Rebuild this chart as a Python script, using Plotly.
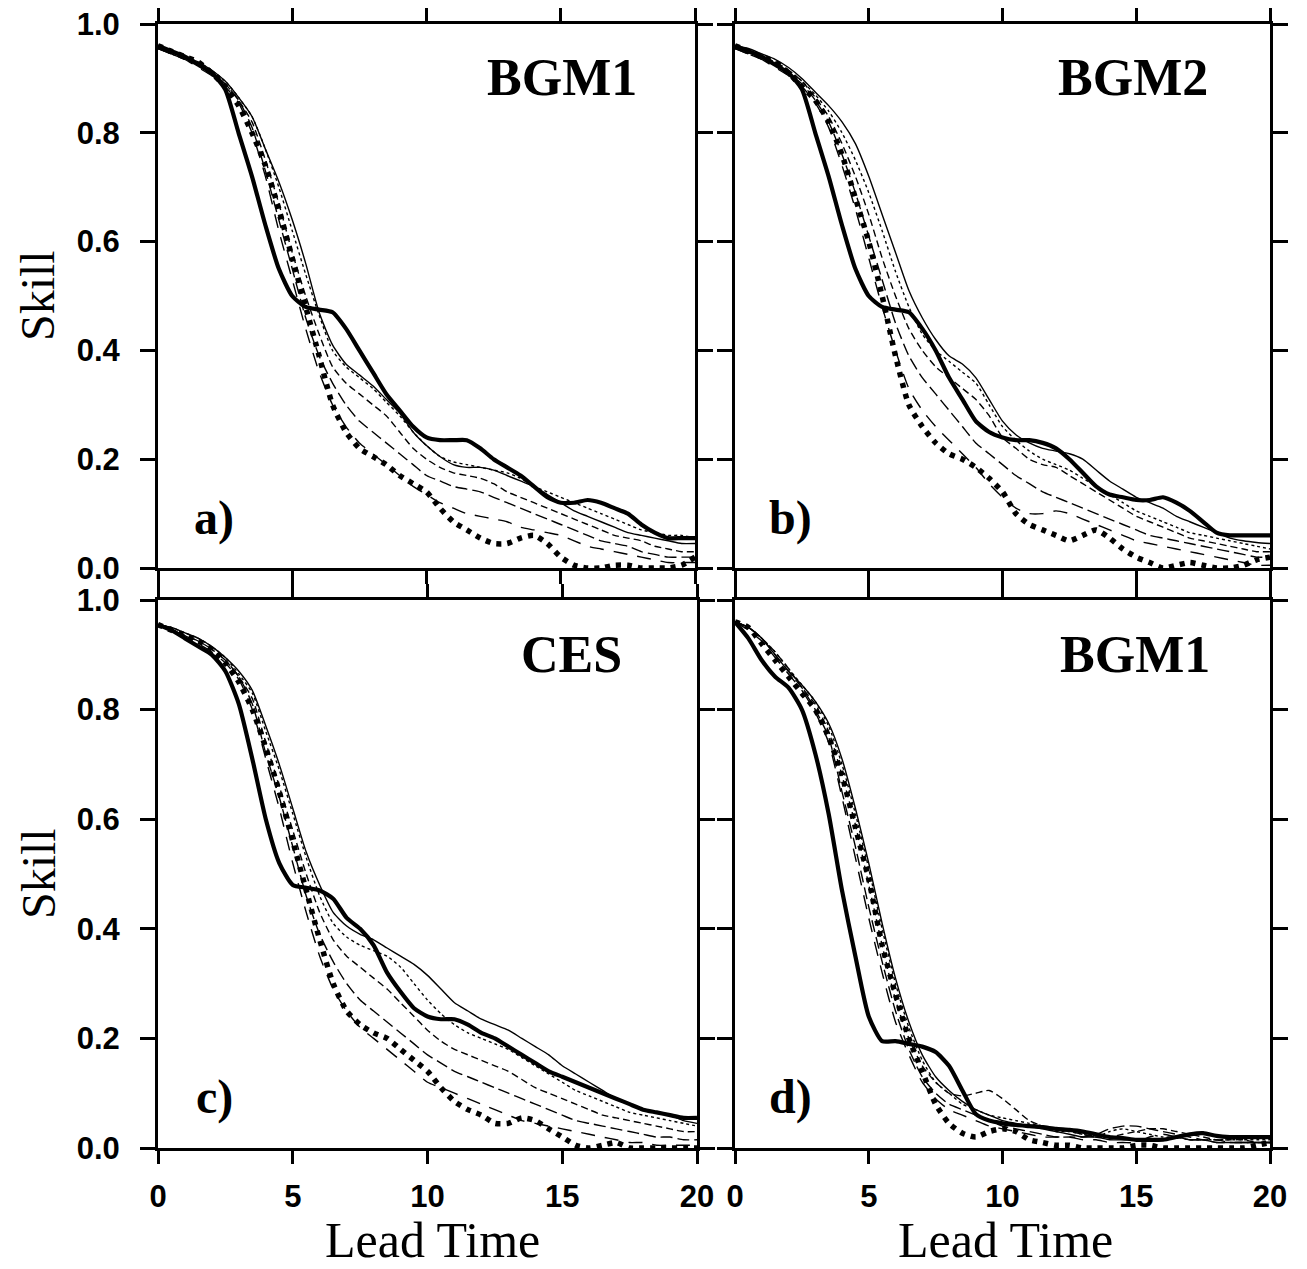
import plotly.graph_objects as go

# ---------------- data ----------------
lead_time = [0, 0.5, 1, 1.5, 2, 2.5, 3, 3.5, 4, 4.5, 5, 5.5, 6, 6.5, 7, 7.5, 8, 8.5, 9, 9.5,
             10, 10.5, 11, 11.5, 12, 12.5, 13, 13.5, 14, 14.5, 15, 15.5, 16, 16.5, 17, 17.5,
             18, 18.5, 19, 19.5, 20]

x_ticks = [0, 5, 10, 15, 20]
y_ticks = [0.0, 0.2, 0.4, 0.6, 0.8, 1.0]
y_tick_labels = ["0.0", "0.2", "0.4", "0.6", "0.8", "1.0"]

panel_titles = ["BGM1", "BGM2", "CES", "BGM1"]
panel_letters = ["a)", "b)", "c)", "d)"]

# panel a
S_a = [.96,.95,.94,.925,.91,.88,.80,.72,.63,.55,.50,.48,.475,.47,.44,.40,.36,.32,.29,.26,.24,.235,.235,.235,.22,.20,.185,.17,.15,.13,.12,.12,.125,.12,.11,.10,.08,.065,.055,.055,.055]
D_a = [.96,.95,.94,.93,.91,.885,.85,.80,.74,.66,.57,.48,.39,.30,.25,.22,.205,.19,.17,.155,.14,.11,.085,.07,.055,.045,.045,.055,.06,.045,.02,.005,0,0,.005,.005,0,0,0,.005,.02]
T1_a = [.955,.95,.94,.93,.915,.895,.865,.83,.77,.71,.64,.56,.47,.41,.375,.355,.335,.31,.285,.25,.225,.205,.19,.185,.185,.18,.17,.16,.15,.135,.12,.105,.095,.085,.075,.065,.06,.055,.05,.045,.045]
T2_a = [.955,.95,.94,.93,.915,.895,.865,.83,.77,.70,.62,.54,.465,.40,.37,.35,.33,.305,.28,.25,.225,.205,.195,.19,.185,.18,.175,.165,.15,.14,.13,.12,.11,.10,.09,.08,.07,.065,.06,.06,.055]
T3_a = [.955,.945,.935,.925,.91,.89,.86,.82,.75,.67,.58,.50,.43,.37,.34,.32,.30,.28,.25,.22,.20,.185,.175,.17,.165,.155,.14,.13,.12,.11,.10,.09,.08,.07,.06,.055,.05,.04,.035,.03,.03]
T4_a = [.955,.945,.935,.925,.91,.89,.86,.81,.73,.64,.55,.46,.39,.34,.30,.27,.25,.23,.21,.19,.17,.16,.15,.145,.14,.13,.12,.11,.10,.09,.08,.07,.06,.05,.045,.04,.03,.025,.02,.02,.02]
T5_a = [.955,.945,.935,.92,.905,.885,.855,.80,.72,.62,.53,.44,.36,.30,.26,.23,.21,.19,.17,.15,.135,.12,.11,.10,.095,.09,.085,.075,.07,.065,.06,.05,.04,.035,.03,.025,.02,.015,.01,.01,.01]

# panel b
S_b = [.96,.95,.94,.925,.91,.88,.80,.72,.63,.55,.50,.48,.475,.47,.44,.40,.35,.31,.27,.25,.24,.235,.235,.23,.22,.20,.175,.15,.135,.13,.125,.125,.13,.12,.105,.085,.065,.06,.06,.06,.06]
D_b = [.96,.95,.94,.93,.91,.885,.86,.82,.76,.68,.60,.50,.39,.30,.26,.23,.21,.20,.185,.165,.14,.10,.08,.07,.06,.05,.06,.07,.055,.035,.02,.01,0,.005,.01,.005,0,0,.005,.015,.02]
T1_b = [.96,.955,.945,.935,.92,.90,.875,.85,.82,.78,.72,.65,.58,.51,.46,.42,.39,.375,.35,.31,.27,.245,.23,.22,.215,.21,.20,.18,.16,.145,.13,.12,.11,.095,.085,.075,.065,.055,.05,.047,.045]
T2_b = [.955,.95,.94,.93,.915,.895,.87,.84,.80,.75,.69,.62,.545,.48,.43,.40,.38,.36,.34,.30,.26,.235,.215,.20,.19,.18,.165,.15,.135,.12,.105,.095,.085,.075,.065,.06,.055,.05,.045,.04,.035]
T3_b = [.955,.95,.94,.93,.915,.895,.865,.83,.78,.72,.65,.57,.50,.44,.40,.37,.35,.33,.31,.28,.24,.22,.20,.19,.185,.17,.155,.14,.125,.11,.095,.085,.075,.065,.055,.05,.045,.04,.035,.03,.03]
T4_b = [.955,.945,.935,.925,.91,.89,.86,.82,.76,.69,.61,.53,.45,.39,.35,.32,.29,.26,.23,.21,.19,.17,.155,.14,.13,.12,.11,.10,.09,.08,.07,.06,.055,.05,.045,.04,.035,.03,.025,.02,.02]
T5_b = [.955,.945,.935,.92,.905,.885,.855,.81,.74,.66,.57,.48,.40,.33,.29,.26,.235,.21,.185,.155,.13,.11,.10,.10,.105,.10,.09,.08,.07,.06,.05,.045,.04,.035,.03,.025,.02,.015,.01,.005,.005]

# panel c
S_c = [.955,.945,.93,.915,.90,.87,.81,.71,.60,.52,.48,.475,.47,.455,.42,.40,.37,.32,.285,.255,.24,.235,.235,.225,.21,.20,.185,.17,.155,.14,.13,.12,.11,.10,.09,.08,.07,.065,.06,.055,.055]
D_c = [.955,.945,.935,.925,.91,.885,.85,.80,.73,.65,.56,.47,.38,.30,.25,.225,.21,.20,.18,.16,.14,.11,.085,.07,.06,.045,.045,.055,.05,.035,.02,.005,0,.005,.01,0,0,0,0,0,0]
T1_c = [.955,.95,.94,.93,.915,.895,.87,.835,.77,.70,.62,.54,.48,.43,.405,.39,.38,.365,.35,.335,.315,.29,.265,.25,.235,.225,.215,.20,.185,.17,.15,.135,.12,.105,.09,.08,.07,.065,.06,.05,.045]
T2_c = [.955,.95,.94,.93,.915,.895,.865,.83,.76,.69,.61,.53,.46,.41,.385,.37,.36,.35,.33,.30,.27,.245,.225,.21,.20,.19,.18,.165,.15,.135,.12,.105,.095,.085,.075,.065,.06,.055,.05,.045,.04]
T3_c = [.955,.945,.935,.925,.91,.89,.86,.82,.74,.66,.58,.50,.43,.38,.35,.33,.31,.29,.265,.24,.215,.195,.18,.17,.16,.15,.14,.125,.11,.10,.09,.08,.07,.06,.055,.05,.045,.04,.035,.03,.03]
T4_c = [.955,.945,.935,.925,.91,.89,.86,.81,.72,.64,.55,.46,.39,.34,.30,.27,.25,.23,.21,.19,.17,.155,.14,.13,.12,.11,.10,.09,.08,.07,.06,.05,.045,.04,.035,.03,.025,.02,.02,.015,.015]
T5_c = [.955,.945,.935,.92,.905,.885,.855,.80,.71,.62,.52,.43,.35,.29,.25,.22,.20,.18,.16,.14,.12,.11,.10,.09,.08,.07,.06,.05,.045,.04,.035,.03,.025,.02,.015,.01,.01,.005,.005,.005,.005]

# panel d
S_d = [.96,.93,.89,.86,.84,.80,.72,.61,.47,.35,.24,.195,.195,.19,.185,.175,.15,.105,.062,.05,.045,.042,.04,.038,.035,.033,.03,.025,.02,.018,.015,.015,.015,.02,.025,.027,.022,.02,.02,.02,.02]
D_d = [.96,.95,.92,.89,.86,.83,.80,.75,.68,.585,.49,.37,.28,.20,.14,.08,.045,.027,.02,.03,.035,.03,.015,.01,.005,.005,0,0,0,0,.005,.005,0,0,0,0,0,0,0,.005,.01]
T1_d = [.96,.95,.93,.90,.87,.845,.815,.775,.71,.62,.52,.41,.31,.23,.17,.13,.105,.085,.07,.06,.05,.045,.04,.035,.03,.025,.02,.02,.015,.015,.015,.015,.015,.02,.015,.015,.01,.01,.01,.01,.01]
T2_d = [.96,.95,.93,.905,.875,.845,.815,.77,.70,.61,.51,.40,.30,.22,.16,.12,.10,.08,.07,.06,.055,.05,.045,.04,.03,.03,.025,.02,.03,.035,.03,.025,.02,.02,.015,.015,.015,.015,.015,.015,.015]
T3_d = [.96,.95,.93,.905,.875,.84,.81,.76,.68,.59,.48,.37,.27,.20,.15,.12,.10,.095,.10,.105,.09,.07,.05,.04,.035,.03,.025,.02,.02,.025,.03,.035,.035,.03,.025,.02,.015,.015,.015,.01,.01]
T4_d = [.96,.95,.93,.90,.87,.84,.80,.75,.65,.55,.44,.34,.25,.18,.13,.10,.08,.07,.06,.05,.04,.035,.03,.025,.02,.02,.02,.025,.035,.04,.04,.035,.03,.025,.02,.015,.015,.01,.01,.01,.01]
T5_d = [.96,.945,.925,.895,.865,.835,.795,.74,.64,.53,.42,.32,.23,.17,.12,.09,.07,.06,.05,.04,.035,.03,.025,.02,.02,.02,.015,.015,.01,.01,.01,.02,.025,.02,.015,.015,.01,.01,.01,.01,.01]

panels = [
    [S_a, D_a, T1_a, T2_a, T3_a, T4_a, T5_a],
    [S_b, D_b, T1_b, T2_b, T3_b, T4_b, T5_b],
    [S_c, D_c, T1_c, T2_c, T3_c, T4_c, T5_c],
    [S_d, D_d, T1_d, T2_d, T3_d, T4_d, T5_d],
]

# ---------------- styles ----------------
styles = [
    dict(width=4.2, dash="solid"),
    dict(width=5.5, dash="5px,6px"),
    dict(width=1.4, dash="solid"),
    dict(width=1.4, dash="3px,3px"),
    dict(width=1.4, dash="7px,4px"),
    dict(width=1.4, dash="12px,5px"),
    dict(width=1.4, dash="14px,10px"),
]

# page body adds an 8px offset; the figure is sized to fit the window after it
OFF = 8
W, H = 1307 - OFF, 1269 - OFF
def px_x(p):
    return (p - OFF) / W
def px_y(p):
    return 1 - (p - OFF) / H

x_domains = [[px_x(158), px_x(695)], [px_x(735), px_x(1270)],
             [px_x(158), px_x(697)], [px_x(735), px_x(1270)]]
y_domains = [[px_y(568), px_y(24)], [px_y(568), px_y(24)],
             [px_y(1148), px_y(600)], [px_y(1148), px_y(600)]]

fig = go.Figure()
for i, series in enumerate(panels):
    sfx = "" if i == 0 else str(i + 1)
    for j, vals in enumerate(series):
        fig.add_trace(go.Scatter(
            x=lead_time, y=vals, mode="lines",
            line=dict(color="black", width=styles[j]["width"], dash=styles[j]["dash"],
                      shape="spline", smoothing=0.6),
            xaxis="x" + sfx, yaxis="y" + sfx, showlegend=False, hoverinfo="skip"))

tickfont = dict(family="Liberation Sans, Arial, sans-serif", size=31, color="black", weight="bold")
layout = dict(template="none", width=W, height=H,
              margin=dict(l=0, r=0, t=0, b=0, pad=0, autoexpand=False),
              paper_bgcolor="white", plot_bgcolor="white", showlegend=False)
for i in range(4):
    sfx = "" if i == 0 else str(i + 1)
    layout["xaxis" + sfx] = dict(
        domain=x_domains[i], range=[0, 20], anchor="y" + sfx, automargin=False,
        tickvals=x_ticks, ticks="outside", ticklen=13, tickwidth=2.5, tickcolor="black",
        showline=True, linecolor="black", linewidth=3, mirror="allticks",
        showgrid=False, zeroline=False, showticklabels=(i >= 2),
        tickfont=tickfont, ticklabelstandoff=6, ticklabeloverflow="allow")
    layout["yaxis" + sfx] = dict(
        domain=y_domains[i], range=[0, 1], anchor="x" + sfx, automargin=False,
        tickvals=y_ticks, ticktext=y_tick_labels, ticks="outside", ticklen=15,
        tickwidth=2.5, tickcolor="black",
        showline=True, linecolor="black", linewidth=3, mirror="allticks",
        showgrid=False, zeroline=False, showticklabels=(i % 2 == 0),
        tickfont=tickfont, ticklabelstandoff=14, ticklabeloverflow="allow")

serif = "Liberation Serif, Times New Roman, serif"
ann = []
for yy in [296, 874]:
    ann.append(dict(text="Skill", x=px_x(38), y=px_y(yy), xref="paper", yref="paper",
                    xanchor="center", yanchor="middle",
                    showarrow=False, textangle=-90,
                    font=dict(family=serif, size=48, color="black")))
for xx in [433, 1005]:
    ann.append(dict(text="Lead Time", x=px_x(xx), y=px_y(1240), xref="paper", yref="paper",
                    xanchor="center", yanchor="middle",
                    showarrow=False, font=dict(family=serif, size=50, color="black")))
title_pos = [(562, 77), (1133, 77), (571, 655), (1135, 655)]
letter_pos = [(214, 518), (790, 518), (214, 1097), (790, 1097)]
for k in range(4):
    ann.append(dict(text=panel_titles[k], x=px_x(title_pos[k][0]), y=px_y(title_pos[k][1]),
                    xref="paper", yref="paper", xanchor="center", yanchor="middle",
                    showarrow=False,
                    font=dict(family=serif, size=52, color="black", weight="bold")))
    ann.append(dict(text=panel_letters[k], x=px_x(letter_pos[k][0]), y=px_y(letter_pos[k][1]),
                    xref="paper", yref="paper", xanchor="center", yanchor="middle",
                    showarrow=False,
                    font=dict(family=serif, size=48, color="black", weight="bold")))
layout["annotations"] = ann

fig.update_layout(**layout)
fig.write_html("out.html")
